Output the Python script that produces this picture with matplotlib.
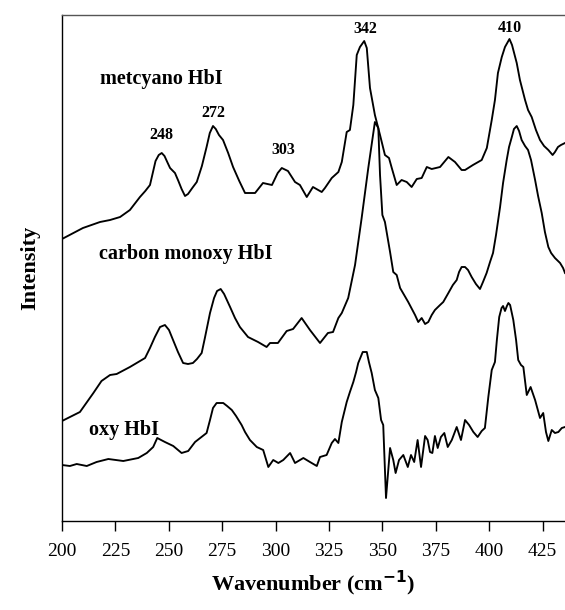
import matplotlib
matplotlib.use("Agg")
import matplotlib.pyplot as plt

# ---------------- data (wavenumber cm^-1, intensity arbitrary units) ----------------
metcyano_wn = [200, 209.8, 217.8, 222.5, 227.2, 231.8, 236.5, 239.0, 241.2, 242.5, 243.8, 245.3,
               246.7, 248.0, 249.5, 250.6, 252.9, 254.5, 256.0, 257.6, 259.0, 261.0, 263.1, 265.5,
               267.7, 269.2, 270.7, 272.0, 273.5, 275.4, 277.8, 280.1, 283.0, 285.7, 290.4, 294.1,
               298.3, 301.0, 302.9, 305.8, 309.1, 311.4, 314.6, 317.5, 321.6, 323.1, 326.3, 329.4,
               331.0, 333.3, 334.8, 336.4, 338.0, 339.5, 341.5, 342.7, 344.2, 346.5, 348.9, 351.2,
               353.1, 354.4, 356.7, 359.0, 361.4, 363.7, 366.1, 368.4, 370.8, 373.1, 377.0, 380.9,
               384.0, 387.1, 388.7, 392.4, 396.5, 397.1, 398.9, 401.2, 402.7, 404.1, 405.9, 407.4,
               409.5, 410.7, 412.9, 414.4, 416.8, 418.2, 419.9, 421.9, 423.8, 425.7, 427.7, 429.7,
               430.8, 432.2, 433.6, 435.5]
metcyano_int = [282, 293, 299, 301, 304, 311, 324, 330, 336, 348, 360, 366,
                368, 365, 358, 353, 348, 340, 332, 325, 327, 333, 339, 355,
                374, 388, 395, 392, 386, 381, 368, 354, 340, 328, 328, 338,
                336, 348, 353, 350, 339, 336, 324, 334, 329, 333, 343, 349,
                359, 389, 391, 416, 466, 474, 480, 473, 433, 406, 386, 366,
                363, 353, 336, 341, 339, 334, 342, 343, 354, 352, 354, 364,
                359, 351, 351, 356, 361, 364, 373, 401, 421, 448, 464, 474,
                482, 476, 458, 441, 421, 411, 404, 391, 381, 375, 371, 366,
                369, 374, 376, 378]

carbonmonoxy_wn = [200, 208.4, 214.7, 218.5, 222.5, 225.6, 231.8, 238.9, 241.2, 243.5, 245.9, 248.2,
                   250.1, 252.0, 254.3, 256.7, 259.0, 261.3, 263.2, 265.4, 266.9, 269.3, 271.2, 272.6,
                   274.3, 275.9, 278.7, 281.0, 283.3, 287.1, 291.8, 295.8, 297.4, 301.1, 305.2, 308.2,
                   312.2, 316.1, 320.8, 324.5, 326.9, 329.4, 331.0, 334.0, 337.2, 340.3, 343.4, 346.5,
                   348.1, 348.9, 350.0, 351.2, 353.6, 355.1, 356.7, 358.3, 362.1, 365.3, 366.8, 368.4,
                   370.0, 371.5, 373.1, 374.6, 377.0, 378.5, 380.9, 383.0, 384.8, 385.9, 387.1, 388.7,
                   390.1, 391.8, 393.8, 395.7, 397.1, 398.8, 400.4, 401.8, 403.2, 405.1, 406.5, 408.2,
                   409.3, 410.6, 411.6, 412.9, 414.0, 415.2, 416.8, 418.2, 419.6, 421.5, 422.9, 424.6,
                   426.1, 427.7, 429.0, 430.8, 433.2, 434.6, 435.5]
carbonmonoxy_int = [100, 109, 128, 140, 146, 147, 154, 163, 173, 184, 194, 196,
                    191, 181, 169, 158, 157, 158, 162, 168, 183, 208, 223, 230,
                    232, 227, 214, 203, 194, 184, 179, 174, 178, 178, 190, 192,
                    203, 191, 178, 188, 189, 203, 208, 223, 256, 303, 353, 399,
                    393, 346, 306, 299, 269, 249, 246, 233, 219, 206, 199, 203,
                    197, 199, 206, 211, 216, 219, 228, 236, 241, 249, 254, 254,
                    251, 244, 237, 232, 239, 248, 259, 268, 286, 314, 338, 361,
                    374, 384, 392, 395, 390, 381, 375, 371, 361, 341, 325, 308,
                    289, 274, 268, 263, 258, 253, 248]

oxy_wn = [200, 203.7, 206.9, 211.6, 216.2, 221.7, 228.7, 235.7, 239.7, 242.7, 244.6, 248.2,
          252.1, 256.0, 259.1, 262.3, 264.7, 267.7, 269.3, 270.7, 272.4, 274.0, 275.5, 277.3,
          279.5, 281.5, 284.1, 285.7, 288.0, 291.2, 294.2, 296.6, 298.9, 301.3, 303.6, 306.8,
          309.1, 313.0, 316.1, 319.3, 320.8, 323.9, 326.3, 327.8, 329.4, 331.0, 333.3, 334.8,
          336.4, 337.7, 338.7, 340.8, 342.7, 343.7, 345.0, 346.5, 348.1, 349.4, 350.4, 351.7,
          353.6, 355.1, 356.2, 357.8, 359.8, 361.9, 363.4, 364.9, 366.5, 368.1, 370.0, 371.2,
          372.3, 373.4, 374.6, 375.9, 377.4, 379.0, 380.6, 382.5, 384.8, 386.8, 388.7, 390.6,
          392.6, 394.6, 396.5, 398.0, 399.6, 401.2, 402.7, 403.6, 404.7, 405.8, 406.5, 407.4,
          408.3, 409.0, 409.8, 411.3, 412.6, 413.6, 414.9, 416.0, 417.6, 419.4, 421.5, 423.8,
          425.3, 426.6, 427.7, 429.3, 430.8, 432.4, 434.0, 435.5]
oxy_int = [56, 55, 57, 55, 59, 62, 60, 63, 68, 74, 83, 79,
           75, 68, 70, 79, 83, 88, 101, 113, 118, 118, 118, 115,
           111, 105, 96, 89, 81, 74, 71, 54, 61, 58, 61, 68,
           58, 63, 59, 55, 64, 66, 78, 82, 78, 99, 119, 129,
           139, 149, 158, 169, 169, 159, 148, 131, 123, 101, 96, 23,
           73, 61, 48, 61, 66, 54, 66, 59, 81, 54, 85, 81,
           69, 68, 85, 73, 84, 88, 74, 81, 94, 81, 101, 96,
           89, 84, 90, 93, 124, 151, 159, 181, 204, 213, 215, 210,
           215, 218, 216, 201, 181, 161, 156, 154, 126, 134, 121, 103,
           108, 89, 80, 91, 88, 89, 93, 94]

series_labels = ["metcyano HbI", "carbon monoxy HbI", "oxy HbI"]
peak_labels = ["248", "272", "303", "342", "410"]
xticks = [200, 225, 250, 275, 300, 325, 350, 375, 400, 425]

# ---------------- figure ----------------
serif = ["Liberation Serif", "DejaVu Serif"]
fig = plt.figure(figsize=(5.65, 6.10), dpi=100)
ax = fig.add_axes([0.1097, 0.1459, 0.8903, 0.8295])

lw = 1.35
ax.plot(metcyano_wn, metcyano_int, color="black", lw=lw, solid_joinstyle="round")
ax.plot(carbonmonoxy_wn, carbonmonoxy_int, color="black", lw=lw, solid_joinstyle="round")
ax.plot(oxy_wn, oxy_int, color="black", lw=lw, solid_joinstyle="round")

ax.set_xlim(200, 435.5)
ax.set_ylim(0, 506)
ax.set_xticks(xticks)
ax.set_xticklabels([str(t) for t in xticks], family=serif, fontsize=14)
ax.set_yticks([])
ax.spines["right"].set_visible(False)
for s in ["left", "bottom", "top"]:
    ax.spines[s].set_linewidth(1.0)
ax.spines["top"].set_color("#555555")
ax.tick_params(axis="x", direction="out", length=7, width=1.0, pad=9)

# series labels
ax.text(217.8, 442, series_labels[0], family=serif, fontweight="bold", fontsize=14.5,
        ha="left", va="center")
ax.text(217.3, 267, series_labels[1], family=serif, fontweight="bold", fontsize=14.5,
        ha="left", va="center")
ax.text(212.6, 91, series_labels[2], family=serif, fontweight="bold", fontsize=14.5,
        ha="left", va="center")

# peak labels
peak_pos = [(246.7, 386), (270.7, 408), (303.5, 371), (341.9, 492), (409.5, 493)]
for lab, (px, py) in zip(peak_labels, peak_pos):
    ax.text(px, py, lab, family=serif, fontweight="bold", fontsize=11.5,
            ha="center", va="center")

ax.set_xlabel("Wavenumber (cm$^{\\mathbf{-1}}$)", family=serif, fontweight="bold",
              fontsize=16, labelpad=6)
ax.set_ylabel("Intensity", family=serif, fontweight="bold", fontsize=16, labelpad=16)

fig.savefig("out.png", dpi=100)
